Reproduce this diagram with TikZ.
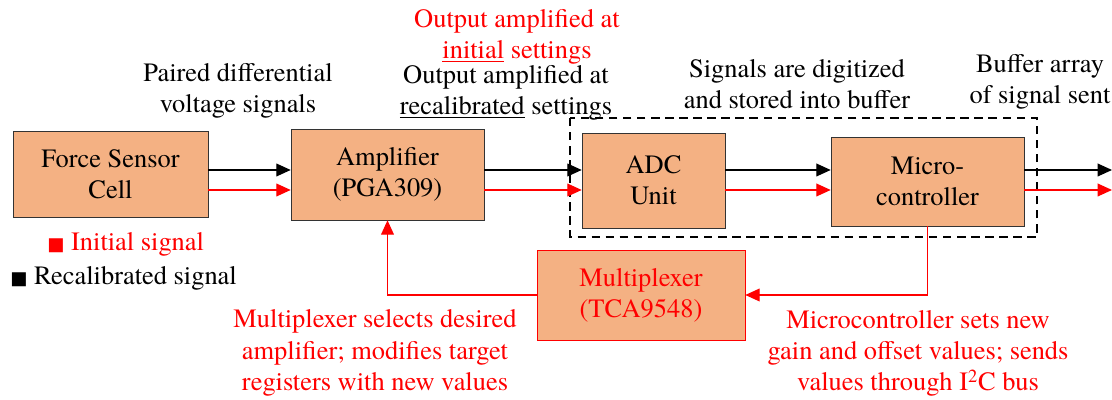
\documentclass[tikz,border=0pt]{standalone}
\usepackage{fontspec}
\setmainfont{TeX Gyre Termes}
\newfontfamily\symfont{DejaVu Sans}
\usetikzlibrary{arrows.meta}
\definecolor{boxfill}{RGB}{244,177,131}
\newcommand{\sqmark}{{\symfont\fontsize{13}{13}\selectfont ■}}
\begin{document}
\begin{tikzpicture}[
    font=\fontsize{18.8}{22.3}\selectfont,
    blk/.style={draw=black!80, fill=boxfill, align=center, inner sep=0pt},
    arr/.style={line width=0.9pt, -{Triangle[length=0.36cm,width=0.32cm]}},
    lbl/.style={align=center, inner sep=0pt}]
    \useasboundingbox (0,0) rectangle (27.8,10);
    % blocks
    \node[blk, minimum width=4.875cm, minimum height=2.15cm] (fsc) at (2.7625,5.65) {Force Sensor\\Cell};
    \node[blk, minimum width=4.825cm, minimum height=2.275cm] (amp) at (9.6875,5.6375) {Amplifier\\(PGA309)};
    \node[blk, minimum width=3.575cm, minimum height=2.375cm] (adc) at (16.3375,5.4875) {ADC\\Unit};
    \node[blk, minimum width=4.825cm, minimum height=2.225cm] (mcu) at (23.1875,5.4625) {Micro-\\controller};
    \node[blk, draw=red, text=red, minimum width=5.2cm, minimum height=2.25cm] (mux) at (16.025,2.625) {Multiplexer\\(TCA9548)};
    \draw[line width=1.6pt, dash pattern=on 6pt off 4pt] (14.25,7.05) rectangle (25.925,4.075);
    % signal levels
    \coordinate (kl) at (0,5.75);
    \coordinate (rl) at (0,5.25);
    \coordinate (out) at (27.8,5.5);
    \draw[arr] (fsc.east |- kl) -- (amp.west |- kl);
    \draw[arr, red] (fsc.east |- rl) -- (amp.west |- rl);
    \draw[arr] (amp.east |- kl) -- (adc.west |- kl);
    \draw[arr, red] (amp.east |- rl) -- (adc.west |- rl);
    \draw[arr] (adc.east |- kl) -- (mcu.west |- kl);
    \draw[arr, red] (adc.east |- rl) -- (mcu.west |- rl);
    \draw[arr] (mcu.east |- kl) -- (out |- kl);
    \draw[arr, red] (mcu.east |- rl) -- (out |- rl);
    % feedback
    \draw[arr, red] (mcu.south) |- (mux.east);
    \draw[arr, red] (mux.west) -| (amp.south);
    % labels
    \node[lbl] (paired) at (5.95,7.725) {Paired differential\\voltage signals};
    \node[lbl, text=red] (outini) at (12.925,9.075) {Output amplified at\\\underline{initial} settings};
    \node[lbl] (outrec) at (12.65,7.675) {Output amplified at\\\underline{recalibrated} settings};
    \node[lbl] (digit) at (19.925,7.9) {Signals are digitized\\and stored into buffer};
    \node[lbl] (buffer) at (26.0,7.95) {Buffer array\\of signal sent};
    \node[lbl, anchor=west, text=red] (legini) at (1.175,3.9) {\sqmark\ Initial signal};
    \node[lbl, anchor=west] (legrec) at (0.25,3.05) {\sqmark\ Recalibrated signal};
    \node[lbl, text=red] (muxnote) at (9.375,1.175) {Multiplexer selects desired\\amplifier; modifies target\\registers with new values};
    \node[lbl, text=red] (mcunote) at (22.95,1.1625) {Microcontroller sets new\\gain and offset values; sends\\values through I\textsuperscript{2}C bus};
\end{tikzpicture}
\end{document}
